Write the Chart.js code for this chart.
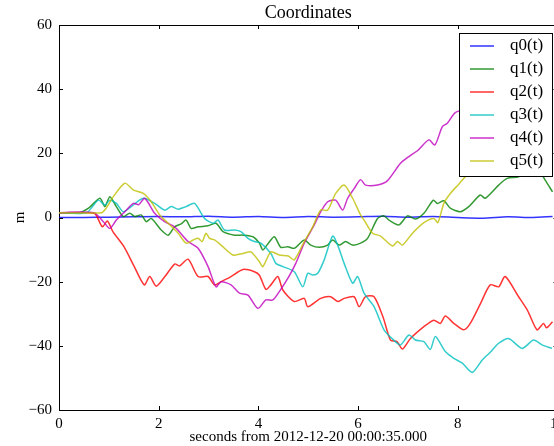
<!DOCTYPE html>
<html lang="en">
<head>
    <meta charset="UTF-8">
    <title>Coordinates</title>
    <script src="https://cdn.jsdelivr.net/npm/chart.js"></script>
    <style>
        html, body { margin: 0; padding: 0; overflow: hidden; background: #fff; }
        .chart-container { position: relative; width: 570px; height: 446px; }
    </style>
</head>
<body>
    <div class="chart-container">
        <canvas id="coordChart"></canvas>
    </div>

    <script>
        // Axis ticks
        const xTicks = [0, 2, 4, 6, 8, 10];
        const yTicks = [-60, -40, -20, 0, 20, 40, 60];

        // Series (time in s, value in m)
        const q0T = [0, 0.5, 1, 1.5, 2, 2.5, 3, 3.5, 4, 4.5, 5, 5.5, 6, 6.5, 7, 7.5, 8, 8.5, 9, 9.5, 9.9];
        const q0V = [0, 0, 0.1, 0.2, 0.3, 0.2, 0.4, 0.1, 0.3, 0, 0.3, 0.1, 0.2, 0.4, 0.1, 0.3, 0, -0.2, 0.2, 0, 0.3];

        const q1T = [0, 0.4, 0.6, 0.82, 0.92, 1.02, 1.15, 1.29, 1.42, 1.52, 1.65, 1.75, 1.85, 2.05, 2.19, 2.32, 2.45, 2.55, 2.65, 2.79, 2.99, 3.15, 3.29, 3.52, 3.69, 3.89, 4.02, 4.09, 4.2, 4.32, 4.45, 4.59, 4.72, 4.92, 5.05, 5.22, 5.39, 5.49, 5.62, 5.75, 5.89, 6.05, 6.19, 6.39, 6.52, 6.62, 6.82, 6.99, 7.15, 7.32, 7.51, 7.59, 7.72, 7.85, 8.05, 8.22, 8.45, 8.55, 8.82, 8.99, 9.22, 9.45, 9.65, 9.75, 9.9];
        const q1V = [1.5, 1.5, 3, 6, 3.4, 6.5, 3.4, 0.3, 1.3, 0.3, 0.8, -1.3, -0.3, -3.9, -5.5, -2.9, -2, -0.8, -3.4, -2.9, -2.6, -1.8, -4.4, -5.5, -5.5, -6, -8, -10.1, -8, -6, -9.3, -9.1, -9.6, -7, -8.6, -9.3, -8.6, -7, -8.6, -7.5, -8.6, -8, -6.5, -0.3, 0.5, -0.8, -2.3, 0.5, -0.5, 1.3, 5.4, 4.4, 5.2, 2.9, 1.8, 3.4, 7, 6, 10.1, 12.2, 12.7, 15, 14, 11.7, 8];

        const q2T = [0, 0.5, 0.72, 0.87, 0.97, 1.08, 1.3, 1.5, 1.71, 1.82, 1.95, 2.12, 2.32, 2.42, 2.59, 2.79, 2.99, 3.12, 3.25, 3.45, 3.69, 3.92, 4.02, 4.15, 4.25, 4.39, 4.49, 4.72, 4.92, 4.99, 5.25, 5.45, 5.59, 5.72, 5.92, 6.02, 6.15, 6.32, 6.5, 6.65, 6.78, 6.89, 7.05, 7.32, 7.52, 7.65, 7.75, 7.92, 8.12, 8.25, 8.45, 8.65, 8.82, 8.95, 9.22, 9.4, 9.59, 9.72, 9.78, 9.9];
        const q2V = [1.5, 1.5, 1.2, -2.9, -1.1, -4.4, -9, -15, -21, -18.4, -21.4, -18.5, -14.5, -15.1, -13, -18.4, -18.4, -21, -20, -18.4, -16.2, -16.9, -18, -22.4, -21, -18.4, -22.6, -26.2, -25.2, -27.8, -25.2, -24.7, -26.2, -25.2, -24.7, -27.8, -24.7, -24.7, -31, -38.2, -38.7, -41, -37.7, -34, -32, -33, -30.7, -33, -35, -33, -27, -21, -21.6, -18.4, -24.7, -29, -35, -33, -34.4, -32.5];

        const q3T = [0, 0.55, 0.79, 0.92, 1.02, 1.15, 1.29, 1.45, 1.69, 1.92, 2.12, 2.25, 2.39, 2.55, 2.72, 2.92, 3.09, 3.19, 3.32, 3.52, 3.65, 3.79, 3.92, 4.05, 4.25, 4.35, 4.49, 4.72, 4.89, 4.99, 5.09, 5.19, 5.32, 5.49, 5.59, 5.72, 5.89, 5.99, 6.12, 6.32, 6.52, 6.7, 6.85, 7.02, 7.15, 7.32, 7.45, 7.55, 7.75, 7.92, 8.09, 8.29, 8.49, 8.65, 8.82, 9.02, 9.29, 9.52, 9.69, 9.89];
        const q3V = [1.5, 1.5, 5.4, 3.9, 5.4, 4.4, 1.8, 3.4, 6, 4.4, 2.3, 3.4, 2.6, 3.4, 4.4, -0.3, -1.8, -0.8, -3.9, -3.9, -4.4, -6.5, -7.5, -8, -11.2, -14.3, -15.3, -16.9, -21.6, -17.4, -17.9, -17.4, -13.2, -5.8, -8.6, -14.3, -20.5, -18.4, -23.6, -27.8, -35, -38, -39.7, -36.6, -38.2, -38.7, -41.1, -37.1, -41.8, -43.9, -45.4, -48.3, -44.4, -42, -39.2, -37.7, -40.8, -38.2, -39.7, -40.8];

        const q4T = [0, 0.7, 0.89, 1.02, 1.15, 1.32, 1.49, 1.6, 1.72, 1.92, 2.12, 2.32, 2.59, 2.79, 2.99, 3.15, 3.25, 3.45, 3.62, 3.79, 3.99, 4.15, 4.29, 4.42, 4.59, 4.75, 4.92, 5.12, 5.25, 5.39, 5.55, 5.69, 5.79, 5.92, 6.05, 6.15, 6.39, 6.59, 6.85, 7.02, 7.19, 7.42, 7.54, 7.69, 7.79, 7.95, 8.2, 8.5, 8.8, 9.1, 9.4, 9.65, 9.9];
        const q4V = [1.5, 1.5, -1.3, -3.4, -0.8, 1.8, 4.4, 4, 6, 1.3, -1.3, -2.9, -7.5, -9.6, -15.3, -21.6, -20, -21, -23.6, -24.2, -28.3, -25.7, -25.7, -23.1, -19, -14.3, -8, -2.3, 1.8, 4.9, 5.4, 2.3, 6, 9, 11.8, 10.1, 10.1, 11.5, 16.9, 19, 20.8, 24.2, 22.6, 28.3, 29.4, 32.7, 34, 37, 40, 42, 45, 46, 48];

        const q5T = [0, 0.85, 0.95, 1.09, 1.32, 1.49, 1.69, 1.85, 2.02, 2.19, 2.39, 2.55, 2.69, 2.79, 2.87, 2.95, 3.02, 3.12, 3.25, 3.49, 3.69, 3.85, 4.02, 4.09, 4.25, 4.42, 4.6, 4.72, 4.92, 5.09, 5.25, 5.39, 5.55, 5.72, 5.89, 6.05, 6.12, 6.29, 6.45, 6.69, 6.79, 6.89, 7.09, 7.32, 7.52, 7.6, 7.72, 7.85, 8.02, 8.15, 8.4, 8.7, 9.0, 9.3, 9.6, 9.9];
        const q5V = [1.5, 1.5, 3, 6.5, 10.7, 8.6, 7.5, 4.9, 0.8, -1.8, -4.9, -8, -7, -6.5, -7.5, -4.9, -6.5, -7, -8.6, -11.7, -11.2, -10.7, -13.8, -15.3, -10.7, -11.7, -12, -13.2, -7.5, -2.9, 2.3, 2.3, 7.5, 10.1, 6, 0.8, -0.8, -4.9, -5.8, -8.9, -7.5, -8.6, -4.9, -1.6, -0.3, -1.6, 4.4, 7.5, 10.4, 12.7, 17, 22, 26, 30, 34, 38];

        const names = ['q0(t)', 'q1(t)', 'q2(t)', 'q3(t)', 'q4(t)', 'q5(t)'];
        const colors = ['rgba(0,0,255,0.8)', 'rgba(0,128,0,0.8)', 'rgba(255,0,0,0.8)',
                        'rgba(0,191,191,0.8)', 'rgba(191,0,191,0.8)', 'rgba(191,191,0,0.8)'];
        const allT = [q0T, q1T, q2T, q3T, q4T, q5T];
        const allV = [q0V, q1V, q2V, q3V, q4V, q5V];

        const serif = "'Liberation Serif', 'DejaVu Serif', serif";
        const minus = v => String(v).replace('-', '\u2212');

        // titre, étiquettes d'axes, graduations internes et légende
        const decorations = {
            id: 'decorations',
            afterDraw(chart) {
                const ctx = chart.ctx;
                const a = chart.chartArea;
                const xs = chart.scales.x, ys = chart.scales.y;
                ctx.save();
                ctx.strokeStyle = '#000';
                ctx.lineWidth = 1;
                ctx.beginPath();
                ctx.moveTo(a.left, a.top + 0.5);
                ctx.lineTo(a.right, a.top + 0.5);
                ctx.moveTo(a.right - 0.5, a.top);
                ctx.lineTo(a.right - 0.5, a.bottom);
                xTicks.forEach(v => {
                    const px = Math.round(xs.getPixelForValue(v)) + 0.5;
                    ctx.moveTo(px, a.bottom); ctx.lineTo(px, a.bottom - 4);
                    ctx.moveTo(px, a.top); ctx.lineTo(px, a.top + 4);
                });
                yTicks.forEach(v => {
                    const py = Math.round(ys.getPixelForValue(v)) + 0.5;
                    ctx.moveTo(a.left, py); ctx.lineTo(a.left + 4, py);
                    ctx.moveTo(a.right, py); ctx.lineTo(a.right - 4, py);
                });
                ctx.stroke();

                ctx.fillStyle = '#000';
                ctx.textAlign = 'center';
                ctx.textBaseline = 'middle';
                ctx.font = '18px ' + serif;
                ctx.fillText('Coordinates', (a.left + a.right) / 2, 13);
                ctx.font = '15px ' + serif;
                ctx.fillText('seconds from 2012-12-20 00:00:35.000', (a.left + a.right) / 2, 437);
                ctx.save();
                ctx.translate(20, (a.top + a.bottom) / 2);
                ctx.rotate(-Math.PI / 2);
                ctx.fillText('m', 0, 0);
                ctx.restore();

                // légende
                const lx = 459, ly = 33, lw = 93, lh = 143;
                ctx.fillStyle = '#fff';
                ctx.fillRect(lx, ly, lw, lh);
                ctx.strokeStyle = '#000';
                ctx.strokeRect(lx + 0.5, ly + 0.5, lw, lh);
                ctx.font = '17px ' + serif;
                ctx.textAlign = 'left';
                names.forEach((n, i) => {
                    const y = 46 + i * 23;
                    ctx.strokeStyle = colors[i];
                    ctx.lineWidth = 1.5;
                    ctx.beginPath();
                    ctx.moveTo(470, y); ctx.lineTo(494, y);
                    ctx.stroke();
                    ctx.fillStyle = '#000';
                    ctx.fillText(n, 510, y);
                });
                ctx.restore();
            }
        };

        const datasets = names.map((n, i) => ({
            label: n,
            data: allT[i].map((t, k) => ({ x: t, y: allV[i][k] })),
            borderColor: colors[i],
            borderWidth: 1.5,
            pointRadius: 0,
            tension: 0.25,
            fill: false,
            order: names.length - i
        }));

        new Chart(document.getElementById('coordChart').getContext('2d'), {
            type: 'line',
            data: { datasets: datasets },
            options: {
                responsive: true,
                maintainAspectRatio: false,
                devicePixelRatio: 1,
                animation: false,
                layout: { padding: { top: 25, right: 11, left: 0, bottom: 0 } },
                plugins: {
                    legend: { display: false },
                    tooltip: { enabled: false },
                    title: { display: false }
                },
                scales: {
                    x: {
                        type: 'linear',
                        min: 0, max: 10,
                        afterFit: s => { s.height = 36; },
                        afterBuildTicks: s => { s.ticks = xTicks.map(v => ({ value: v })); },
                        grid: { display: true, drawOnChartArea: false, drawTicks: false },
                        border: { display: true, color: '#000', width: 1 },
                        ticks: { padding: 5, color: '#000', font: { family: serif, size: 15 }, maxRotation: 0 }
                    },
                    y: {
                        min: -60, max: 60,
                        afterFit: s => { s.width = 59; },
                        afterBuildTicks: s => { s.ticks = yTicks.map(v => ({ value: v })); },
                        grid: { display: true, drawOnChartArea: false, drawTicks: false },
                        border: { display: true, color: '#000', width: 1 },
                        ticks: { padding: 7, color: '#000', font: { family: serif, size: 15 }, callback: v => minus(v) }
                    }
                }
            },
            plugins: [decorations]
        });
    </script>
</body>
</html>
